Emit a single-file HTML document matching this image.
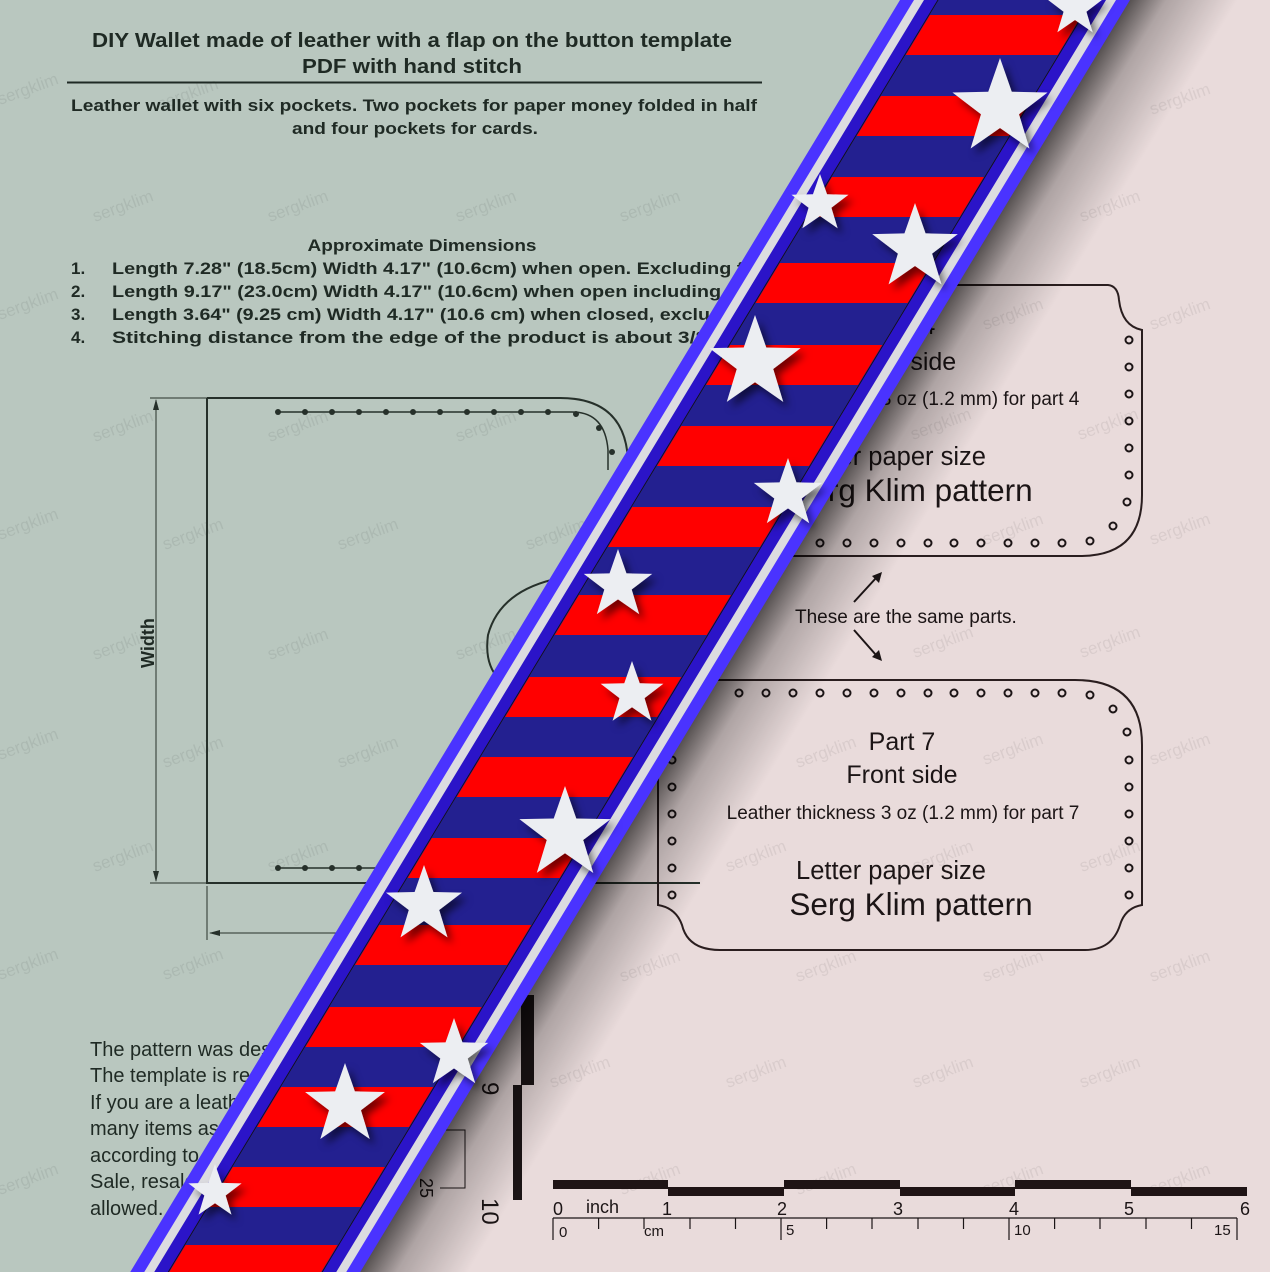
<!DOCTYPE html>
<html><head><meta charset="utf-8"><style>
html,body{margin:0;padding:0;width:1270px;height:1272px;overflow:hidden;background:#e9dbdb}
svg{display:block}
.b{font-family:"Liberation Sans",sans-serif;font-weight:bold;fill:#1f2a24}
.r{font-family:"Liberation Sans",sans-serif;fill:#1c1516}
.w{font-family:"Liberation Sans",sans-serif;font-size:17px;fill:#000;opacity:.07}
</style></head><body>
<svg width="1270" height="1272" viewBox="0 0 1270 1272" xmlns="http://www.w3.org/2000/svg" style="overflow:hidden">
<defs>
<linearGradient id="sh" x1="0" x2="1" y1="0" y2="0">
<stop offset="0" stop-color="#000" stop-opacity=".65"/>
<stop offset=".35" stop-color="#000" stop-opacity=".25"/>
<stop offset="1" stop-color="#000" stop-opacity="0"/>
</linearGradient>
<filter id="ds" x="-50%" y="-50%" width="200%" height="200%"><feDropShadow dx="5" dy="6" stdDeviation="4" flood-color="#000" flood-opacity=".55"/></filter>
<polygon id="st" points="0,-1 0.235,-0.324 0.951,-0.309 0.38,0.124 0.588,0.809 0,0.4 -0.588,0.809 -0.38,0.124 -0.951,-0.309 -0.235,-0.324"/>
<clipPath id="inner"><rect x="-76" y="-60" width="152" height="1400"/></clipPath>
</defs>
<polygon points="0,0 1015,0 245,1272 0,1272" fill="#b9c7bf"/>
<g class="w">
<text transform="translate(95,222) rotate(-20)">sergklim</text>
<text transform="translate(270,222) rotate(-20)">sergklim</text>
<text transform="translate(458,222) rotate(-20)">sergklim</text>
<text transform="translate(622,222) rotate(-20)">sergklim</text>
<text transform="translate(1082,222) rotate(-20)">sergklim</text>
<text transform="translate(1152,115) rotate(-20)">sergklim</text>
<text transform="translate(0,105) rotate(-20)">sergklim</text>
<text transform="translate(160,110) rotate(-20)">sergklim</text>
<text transform="translate(0,320) rotate(-20)">sergklim</text>
<text transform="translate(95,442) rotate(-20)">sergklim</text>
<text transform="translate(270,442) rotate(-20)">sergklim</text>
<text transform="translate(458,442) rotate(-20)">sergklim</text>
<text transform="translate(985,330) rotate(-20)">sergklim</text>
<text transform="translate(1152,330) rotate(-20)">sergklim</text>
<text transform="translate(913,440) rotate(-20)">sergklim</text>
<text transform="translate(1080,440) rotate(-20)">sergklim</text>
<text transform="translate(0,540) rotate(-20)">sergklim</text>
<text transform="translate(165,550) rotate(-20)">sergklim</text>
<text transform="translate(340,550) rotate(-20)">sergklim</text>
<text transform="translate(528,550) rotate(-20)">sergklim</text>
<text transform="translate(985,545) rotate(-20)">sergklim</text>
<text transform="translate(1152,545) rotate(-20)">sergklim</text>
<text transform="translate(95,660) rotate(-20)">sergklim</text>
<text transform="translate(270,660) rotate(-20)">sergklim</text>
<text transform="translate(458,660) rotate(-20)">sergklim</text>
<text transform="translate(915,658) rotate(-20)">sergklim</text>
<text transform="translate(1082,658) rotate(-20)">sergklim</text>
<text transform="translate(0,760) rotate(-20)">sergklim</text>
<text transform="translate(165,768) rotate(-20)">sergklim</text>
<text transform="translate(340,768) rotate(-20)">sergklim</text>
<text transform="translate(798,768) rotate(-20)">sergklim</text>
<text transform="translate(985,765) rotate(-20)">sergklim</text>
<text transform="translate(1152,765) rotate(-20)">sergklim</text>
<text transform="translate(95,872) rotate(-20)">sergklim</text>
<text transform="translate(270,872) rotate(-20)">sergklim</text>
<text transform="translate(728,872) rotate(-20)">sergklim</text>
<text transform="translate(915,872) rotate(-20)">sergklim</text>
<text transform="translate(1082,872) rotate(-20)">sergklim</text>
<text transform="translate(0,980) rotate(-20)">sergklim</text>
<text transform="translate(165,980) rotate(-20)">sergklim</text>
<text transform="translate(622,982) rotate(-20)">sergklim</text>
<text transform="translate(798,982) rotate(-20)">sergklim</text>
<text transform="translate(985,982) rotate(-20)">sergklim</text>
<text transform="translate(1152,982) rotate(-20)">sergklim</text>
<text transform="translate(552,1088) rotate(-20)">sergklim</text>
<text transform="translate(728,1088) rotate(-20)">sergklim</text>
<text transform="translate(915,1088) rotate(-20)">sergklim</text>
<text transform="translate(1082,1088) rotate(-20)">sergklim</text>
<text transform="translate(0,1195) rotate(-20)">sergklim</text>
<text transform="translate(622,1195) rotate(-20)">sergklim</text>
<text transform="translate(798,1195) rotate(-20)">sergklim</text>
<text transform="translate(985,1195) rotate(-20)">sergklim</text>
<text transform="translate(1152,1195) rotate(-20)">sergklim</text>
</g>
<text class="b" x="412" y="47" font-size="20" text-anchor="middle" textLength="640" lengthAdjust="spacingAndGlyphs">DIY Wallet made of leather with a flap on the button template</text>
<text class="b" x="412" y="73" font-size="20" text-anchor="middle" textLength="220" lengthAdjust="spacingAndGlyphs">PDF with hand stitch</text>
<line x1="67" y1="82.5" x2="762" y2="82.5" stroke="#1f2a24" stroke-width="2"/>
<text class="b" x="414" y="111" font-size="17" text-anchor="middle" textLength="686" lengthAdjust="spacingAndGlyphs">Leather wallet with six pockets. Two pockets for paper money folded in half</text>
<text class="b" x="415" y="134" font-size="17" text-anchor="middle" textLength="246" lengthAdjust="spacingAndGlyphs">and four pockets for cards.</text>
<text class="b" x="422" y="251" font-size="17" text-anchor="middle" textLength="229" lengthAdjust="spacingAndGlyphs">Approximate Dimensions</text>
<g class="b" font-size="17">
<text x="71" y="274">1.</text><text x="112" y="274" textLength="660" lengthAdjust="spacingAndGlyphs">Length 7.28" (18.5cm) Width 4.17" (10.6cm) when open. Excluding flap</text>
<text x="71" y="297">2.</text><text x="112" y="297" textLength="650" lengthAdjust="spacingAndGlyphs">Length 9.17" (23.0cm) Width 4.17" (10.6cm) when open including flap</text>
<text x="71" y="320">3.</text><text x="112" y="320" textLength="680" lengthAdjust="spacingAndGlyphs">Length 3.64" (9.25 cm) Width 4.17" (10.6 cm) when closed, excluding flap</text>
<text x="71" y="343">4.</text><text x="112" y="343" textLength="680" lengthAdjust="spacingAndGlyphs">Stitching distance from the edge of the product is about 3/8" (3 mm)</text>
</g>
<g fill="none" stroke="#26302a">
<path d="M207,398 H560 Q625,398 628,460 V700" stroke-width="2"/>
<path d="M207,398 V883 H700" stroke-width="2"/>
<path d="M278,412 H572 Q605,412 608,450 V470" stroke-width="1.5"/>
<path d="M278,868 H420" stroke-width="1.5"/>
<path d="M560,578 Q500,590 488,635 Q484,665 500,680" stroke-width="2"/>
<path d="M525,625 Q515,635 516,650" stroke-width="2"/>
<line x1="150" y1="398" x2="207" y2="398" stroke-width="1"/>
<line x1="150" y1="883" x2="207" y2="883" stroke-width="1"/>
<line x1="156" y1="400" x2="156" y2="881" stroke-width="1"/>
<line x1="207" y1="886" x2="207" y2="940" stroke-width="1"/>
<line x1="210" y1="933" x2="420" y2="933" stroke-width="1"/>
</g>
<polygon points="156,399 153,410 159,410" fill="#26302a"/>
<polygon points="156,882 153,871 159,871" fill="#26302a"/>
<polygon points="209,933 220,930 220,936" fill="#26302a"/>
<g fill="#26302a">
<circle cx="278" cy="412" r="3"/><circle cx="305" cy="412" r="3"/><circle cx="332" cy="412" r="3"/><circle cx="359" cy="412" r="3"/><circle cx="386" cy="412" r="3"/><circle cx="413" cy="412" r="3"/><circle cx="440" cy="412" r="3"/><circle cx="467" cy="412" r="3"/><circle cx="494" cy="412" r="3"/><circle cx="521" cy="412" r="3"/><circle cx="548" cy="412" r="3"/><circle cx="576" cy="414" r="3"/><circle cx="599" cy="428" r="3"/><circle cx="612" cy="452" r="3"/>
<circle cx="278" cy="868" r="3"/><circle cx="305" cy="868" r="3"/><circle cx="332" cy="868" r="3"/><circle cx="359" cy="868" r="3"/>
</g>
<text class="b" font-size="18" transform="translate(154,668) rotate(-90)">Width</text>
<g class="r" font-size="20" style="fill:#1f2a24">
<text x="90" y="1056">The pattern was designed by Serg Klim.</text>
<text x="90" y="1082">The template is ready for printing.</text>
<text x="90" y="1109">If you are a leather craftsman</text>
<text x="90" y="1135">many items as you wish and sell them</text>
<text x="90" y="1162">according to the license.</text>
<text x="90" y="1188">Sale, resale of the pattern is not</text>
<text x="90" y="1215">allowed.</text>
</g>
<g fill="none" stroke="#2a1e1f" stroke-width="2">
<path d="M780,285 H1108 Q1118,286 1119,300 Q1122,326 1142,330 V495 Q1142,556 1080,556 H780"/>
<path d="M700,680 H1075 Q1142,680 1142,745 V905 Q1125,908 1120,925 Q1112,950 1085,950 H720 Q688,950 682,925 Q676,908 658,905 V700"/>
</g>
<g fill="none" stroke="#1c1516" stroke-width="2">
<circle cx="1129" cy="340" r="3.5"/><circle cx="1129" cy="367" r="3.5"/><circle cx="1129" cy="394" r="3.5"/><circle cx="1129" cy="421" r="3.5"/><circle cx="1129" cy="448" r="3.5"/><circle cx="1129" cy="475" r="3.5"/><circle cx="1127" cy="502" r="3.5"/><circle cx="1113" cy="526" r="3.5"/><circle cx="1090" cy="541" r="3.5"/>
<circle cx="820" cy="543" r="3.5"/><circle cx="847" cy="543" r="3.5"/><circle cx="874" cy="543" r="3.5"/><circle cx="901" cy="543" r="3.5"/><circle cx="928" cy="543" r="3.5"/><circle cx="954" cy="543" r="3.5"/><circle cx="981" cy="543" r="3.5"/><circle cx="1008" cy="543" r="3.5"/><circle cx="1035" cy="543" r="3.5"/><circle cx="1062" cy="543" r="3.5"/>
<circle cx="739" cy="693" r="3.5"/><circle cx="766" cy="693" r="3.5"/><circle cx="793" cy="693" r="3.5"/><circle cx="820" cy="693" r="3.5"/><circle cx="847" cy="693" r="3.5"/><circle cx="874" cy="693" r="3.5"/><circle cx="901" cy="693" r="3.5"/><circle cx="928" cy="693" r="3.5"/><circle cx="954" cy="693" r="3.5"/><circle cx="981" cy="693" r="3.5"/><circle cx="1008" cy="693" r="3.5"/><circle cx="1035" cy="693" r="3.5"/><circle cx="1062" cy="693" r="3.5"/><circle cx="1090" cy="695" r="3.5"/><circle cx="1113" cy="709" r="3.5"/>
<circle cx="1127" cy="732" r="3.5"/><circle cx="1129" cy="760" r="3.5"/><circle cx="1129" cy="787" r="3.5"/><circle cx="1129" cy="814" r="3.5"/><circle cx="1129" cy="841" r="3.5"/><circle cx="1129" cy="868" r="3.5"/><circle cx="1129" cy="895" r="3.5"/>
<circle cx="672" cy="760" r="3.5"/><circle cx="672" cy="787" r="3.5"/><circle cx="672" cy="814" r="3.5"/><circle cx="672" cy="841" r="3.5"/><circle cx="672" cy="868" r="3.5"/><circle cx="672" cy="895" r="3.5"/>
</g>
<g class="r" text-anchor="middle">
<text x="902" y="334" font-size="25">Part 4</text>
<text x="902" y="370" font-size="25">Back side</text>
<text x="903" y="405" font-size="19">Leather thickness 3 oz (1.2 mm) for part 4</text>
<text x="891" y="465" font-size="25.5">Letter paper size</text>
<text x="911" y="501" font-size="31.5">Serg Klim pattern</text>
<text x="902" y="750" font-size="25">Part 7</text>
<text x="902" y="783" font-size="25">Front side</text>
<text x="903" y="819" font-size="19">Leather thickness 3 oz (1.2 mm) for part 7</text>
<text x="891" y="879" font-size="25.5">Letter paper size</text>
<text x="911" y="915" font-size="31.5">Serg Klim pattern</text>
</g>
<text class="r" x="795" y="623" font-size="19">These are the same parts.</text>
<g stroke="#1c1516" stroke-width="2"><line x1="854" y1="602" x2="876" y2="578"/><line x1="854" y1="630" x2="876" y2="655"/></g>
<polygon points="882,572 872,576 879,583" fill="#1c1516"/>
<polygon points="882,661 872,657 879,650" fill="#1c1516"/>
<rect x="521" y="995" width="13" height="90" fill="#1c1516"/>
<rect x="513" y="1085" width="9" height="115" fill="#1c1516"/>
<g stroke="#1c1516" stroke-width="1" fill="none"><path d="M440,1130 H465 V1188 H440"/></g>
<text class="r" font-size="24" transform="translate(482,1082) rotate(90)">9</text>
<text class="r" font-size="24" transform="translate(482,1198) rotate(90)">10</text>
<text class="r" font-size="18" transform="translate(420,1178) rotate(90)">25</text>
<g fill="#1f1415">
<rect x="553" y="1180" width="115" height="9"/><rect x="668" y="1187" width="116" height="9"/>
<rect x="784" y="1180" width="116" height="9"/><rect x="900" y="1187" width="115" height="9"/>
<rect x="1015" y="1180" width="116" height="9"/><rect x="1131" y="1187" width="116" height="9"/>
</g>
<g class="r" font-size="18">
<text x="553" y="1215">0</text><text x="586" y="1213">inch</text>
<text x="662" y="1215">1</text><text x="777" y="1215">2</text><text x="893" y="1215">3</text><text x="1009" y="1215">4</text><text x="1124" y="1215">5</text><text x="1240" y="1215">6</text>
</g>
<g stroke="#1c1516" stroke-width="1.2">
<line x1="553" y1="1218" x2="1237" y2="1218"/>
<line x1="553" y1="1218" x2="553" y2="1240"/><line x1="598.6" y1="1218" x2="598.6" y2="1229"/><line x1="644" y1="1218" x2="644" y2="1229"/><line x1="690" y1="1218" x2="690" y2="1229"/><line x1="735.5" y1="1218" x2="735.5" y2="1229"/>
<line x1="781" y1="1218" x2="781" y2="1240"/><line x1="826.6" y1="1218" x2="826.6" y2="1229"/><line x1="872" y1="1218" x2="872" y2="1229"/><line x1="918" y1="1218" x2="918" y2="1229"/><line x1="963.5" y1="1218" x2="963.5" y2="1229"/>
<line x1="1009" y1="1218" x2="1009" y2="1240"/><line x1="1054.6" y1="1218" x2="1054.6" y2="1229"/><line x1="1100" y1="1218" x2="1100" y2="1229"/><line x1="1146" y1="1218" x2="1146" y2="1229"/><line x1="1191.5" y1="1218" x2="1191.5" y2="1229"/>
<line x1="1237" y1="1218" x2="1237" y2="1240"/>
</g>
<g class="r" font-size="15"><text x="559" y="1237">0</text><text x="644" y="1236">cm</text><text x="786" y="1235">5</text><text x="1014" y="1235">10</text><text x="1214" y="1235">15</text></g>
<g transform="translate(1015,0) skewX(-31.18)">
<rect x="113" y="-60" width="110" height="1400" fill="url(#sh)"/>
<rect x="-115" y="-60" width="230" height="1400" fill="#4a33ff"/>
<rect x="-101" y="-60" width="202" height="1400" fill="#dcdce0"/>
<rect x="-91" y="-60" width="182" height="1400" fill="#2b14c8"/>
<rect x="-77" y="-60" width="154" height="1400" fill="#232090"/>
<g clip-path="url(#inner)" fill="#ff0000">
<rect x="-80" y="-67" width="160" height="40"/><rect x="-80" y="15" width="160" height="40"/><rect x="-80" y="96" width="160" height="40"/><rect x="-80" y="177" width="160" height="40"/><rect x="-80" y="263" width="160" height="40"/><rect x="-80" y="345" width="160" height="40"/><rect x="-80" y="426" width="160" height="40"/><rect x="-80" y="507" width="160" height="40"/><rect x="-80" y="595" width="160" height="40"/><rect x="-80" y="677" width="160" height="40"/><rect x="-80" y="757" width="160" height="40"/><rect x="-80" y="838" width="160" height="40"/><rect x="-80" y="925" width="160" height="40"/><rect x="-80" y="1007" width="160" height="40"/><rect x="-80" y="1087" width="160" height="40"/><rect x="-80" y="1167" width="160" height="40"/><rect x="-80" y="1245" width="160" height="40"/>
</g>
<line x1="-77" y1="-60" x2="-77" y2="1340" stroke="#111" stroke-width="1"/>
<line x1="77" y1="-60" x2="77" y2="1340" stroke="#111" stroke-width="1"/>
</g>
<g fill="#eceef2" filter="url(#ds)">
<use href="#st" transform="translate(1075,8) scale(30)"/>
<use href="#st" transform="translate(1000,108) scale(50)"/>
<use href="#st" transform="translate(820,204) scale(30)"/>
<use href="#st" transform="translate(915,248) scale(45)"/>
<use href="#st" transform="translate(755,363) scale(48)"/>
<use href="#st" transform="translate(788,494) scale(36)"/>
<use href="#st" transform="translate(618,585) scale(36)"/>
<use href="#st" transform="translate(632,694) scale(33)"/>
<use href="#st" transform="translate(565,834) scale(48)"/>
<use href="#st" transform="translate(424,905) scale(40)"/>
<use href="#st" transform="translate(454,1054) scale(36)"/>
<use href="#st" transform="translate(345,1105) scale(42)"/>
<use href="#st" transform="translate(215,1192) scale(28)"/>
</g>
</svg>
</body></html>
